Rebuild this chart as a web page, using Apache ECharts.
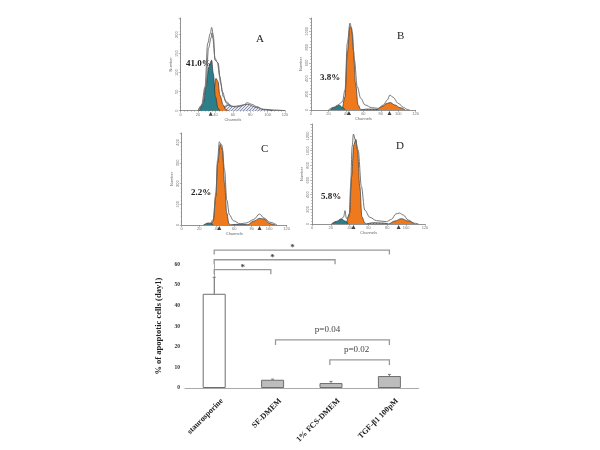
<!DOCTYPE html>
<html><head><meta charset="utf-8">
<style>html,body{margin:0;background:#fff}#c{width:600px;height:450px}</style>
<script src="https://cdn.jsdelivr.net/npm/echarts@6/dist/echarts.min.js"></script>
</head><body><div id="c"></div>
<script>
// ---- Bar chart data
const categories = ['staurosporine','SF-DMEM','1% FCS-DMEM','TGF-β1 100pM'];
const apoptosis = [45.7, 4.0, 2.4, 5.8];
const errorTops = [53.7, 4.3, 3.2, 6.6];
// [from, to, level, tipLevel, label, labelCentre]
const brackets = [
  [0, 3, 66.9, 64.8, '*', 1.34],
  [0, 2.07, 62.2, 60, '*', 1.0],
  [0, 0.97, 57.4, 55.2, '*', 0.49],
  [1.05, 3, 23.3, 20.9, 'p=0.04', 1.94],
  [1.98, 3, 13.6, 11.2, 'p=0.02', 2.44]
];
const bracketLeftTip = [64.8, 60, 55.2, 20.9, 11.2];
// ---- Histogram data: [channel, count]
const aOuter = [[20,0],[24,15],[28,63],[31,177],[34,203],[35.6,219],[37.5,199],[39.5,133],[43,126],[46,72],[49,37],[53,19],[58.6,11],[64,12],[72,15],[76.6,21],[81.6,17],[87,11],[95,4],[106,2],[120,0]];
const aInner = [[20,0],[25,15],[29,63],[32,165],[35,192],[36,205],[37,190],[39.5,138],[42,128],[45,90],[48,50],[52,24],[58,12]];
const aTeal = [[21.5,0],[26,19],[29,63],[32.5,116],[35.6,133],[37.5,98],[40,37],[43,6],[45,0]];
const aOrange = [[33,0],[38,50],[40.6,85],[43,76],[45,41],[49,15],[52,2],[55,0]];
const aHatch = [[48,0],[53,15],[64,10],[76.6,17],[87,9],[95,3],[106,0]];
const aMarks = [34.5];
const bOuter = [[20,0],[25.6,34],[31,64],[36,106],[39,255],[41.6,850],[44.7,1105],[47.4,978],[49.7,638],[53,298],[57,149],[62,64],[69.5,30],[77,21],[83,64],[87.5,128],[90.5,191],[94,162],[100,85],[106,34],[110,8],[113,0]];
const bOrange = [[36,0],[39,170],[41.6,723],[44.7,1062],[46.6,1041],[48.5,765],[51,340],[54,64],[57,8],[59,0],[74.5,0],[81,42],[87.5,85],[91,94],[96,64],[102,30],[108,0]];
const bTeal = [[22,0],[27,34],[32.5,60],[36,34],[39,0]];
const bHatch = [[57,0],[65,12],[72,10],[78,0]];
const bMarks = [43.5, 90];
const cOuter = [[25,0],[32,6],[36,26],[39,154],[41,314],[43,402],[46,386],[49,266],[51.5,122],[54.5,50],[59,21],[66.7,6],[74,10],[82,26],[89,53],[94,34],[101,13],[109,0]];
const cOrange = [[33,0],[36,18],[39,138],[41,298],[44,390],[46.5,362],[49,202],[51.5,58],[54,6],[56,0],[75,0],[82,18],[89,32],[94,29],[101,6],[107,0]];
const cTeal = [[25,0],[30.5,10],[34,6],[36,0]];
const cHatch = [[56,0],[62,3],[70,3],[76,0]];
const cMarks = [43, 89];
const dOuter = [[20.6,0],[26,32],[31,68],[33.7,100],[35,182],[36.5,77],[39.4,100],[41,510],[42.6,1055],[44,1228],[46,1147],[49,1010],[52.5,510],[56,191],[61.4,91],[68.5,46],[79,32],[84.5,64],[89,136],[92.7,150],[97,123],[102,55],[109,9],[113,0]];
const dOrange = [[36.5,0],[40,146],[42,646],[44.4,1078],[46.5,1156],[48.3,1010],[50.8,510],[53,100],[56,18],[58,0],[81,0],[88,41],[95,73],[102,41],[109,0]];
const dTeal = [[21,0],[26,36],[31,68],[36,36],[38.3,0]];
const dHatch = [[58,0],[65,18],[75,14],[81,0]];
const dMarks = [44, 92];
const channelTicks = 20;

const SERIF = '"Liberation Serif","DejaVu Serif",serif';
function hatch(){
  const k = document.createElement('canvas'); k.width = k.height = 3;
  const g = k.getContext('2d');
  g.fillStyle = '#e4e6f0'; g.fillRect(0,0,3,3);
  g.strokeStyle = '#6f7aa8'; g.lineWidth = 0.8;
  g.beginPath(); g.moveTo(0,3); g.lineTo(3,0); g.stroke();
  return {image:k, repeat:'repeat'};
}
const panels = [
  {left:180.7,top:18,w:104.3,h:92.7,ymax:244,yint:50,outer:aOuter,inner:aInner,teal:aTeal,orange:aOrange,hatch:aHatch,marks:aMarks},
  {left:311,top:18,w:104.7,h:92,ymax:1170,yint:200,outer:bOuter,teal:bTeal,orange:bOrange,hatch:bHatch,marks:bMarks},
  {left:181.7,top:133,w:105,h:92,ymax:445,yint:100,outer:cOuter,teal:cTeal,orange:cOrange,hatch:cHatch,marks:cMarks},
  {left:312,top:124,w:113,h:100,ymax:1365,yint:200,outer:dOuter,teal:dTeal,orange:dOrange,hatch:dHatch,marks:dMarks}
];
const grid=[], xAxis=[], yAxis=[], series=[];
const area=(name,i,data,color,z)=>({name,type:'line',xAxisIndex:i,yAxisIndex:i,data,symbol:'none',smooth:0.35,smoothMonotone:'x',z,
  lineStyle:{color:'#333',width:0.7},areaStyle:{color,opacity:1}});
panels.forEach((p,i)=>{
  grid.push({left:p.left,top:p.top,width:p.w,height:p.h});
  xAxis.push({type:'value',gridIndex:i,min:0,max:120,interval:channelTicks,
    name:'Channels',nameLocation:'middle',nameGap:6,nameTextStyle:{fontSize:4,color:'#666'},
    axisLine:{lineStyle:{color:'#777',width:0.8}},axisTick:{length:2,lineStyle:{color:'#777',width:0.5}},
    minorTick:{show:true,splitNumber:5,length:1,lineStyle:{color:'#888',width:0.5}},
    axisLabel:{fontSize:4,color:'#777',margin:2},splitLine:{show:false}});
  yAxis.push({type:'value',gridIndex:i,min:0,max:p.ymax,interval:p.yint,
    name:'Number',nameLocation:'middle',nameGap:8,nameTextStyle:{fontSize:4,color:'#666'},
    axisLine:{show:true,lineStyle:{color:'#777',width:0.8}},axisTick:{show:true,length:2,lineStyle:{color:'#777',width:0.5}},
    minorTick:{show:true,splitNumber:5,length:1,lineStyle:{color:'#888',width:0.5}},
    axisLabel:{fontSize:4,color:'#777',margin:2,rotate:90,showMaxLabel:false,formatter:(v)=>String(v)},splitLine:{show:false}});
  series.push(area('hatch',i,p.hatch,hatch(),2));
  series.push(area('orange',i,p.orange,'#ef7a1e',3));
  series.push(area('teal',i,p.teal,'#2a7f8b',4));
  const ol=(d)=>({type:'line',xAxisIndex:i,yAxisIndex:i,data:d,symbol:'none',smooth:0.35,smoothMonotone:'x',z:5,
    lineStyle:{color:'#666',width:0.9}});
  series.push(ol(p.outer));
  if(p.inner) series.push(ol(p.inner));
  series.push({type:'scatter',xAxisIndex:i,yAxisIndex:i,data:p.marks.map(m=>[m,0]),symbol:'triangle',symbolSize:4,
    symbolOffset:[0,3],itemStyle:{color:'#111'},z:6,clip:false});
});
// ---- Bar chart
const B=4;
grid.push({left:185,top:264.3,width:233.6,height:123.7});
xAxis.push({type:'category',gridIndex:B,data:categories,axisTick:{show:false},
  axisLine:{lineStyle:{color:'#aaa',width:1.2}},
  axisLabel:{interval:0,rotate:45,fontSize:8,fontWeight:'bold',fontFamily:SERIF,color:'#222',margin:4,verticalAlign:'top',padding:[7,0,0,0]}});
xAxis.push({type:'value',gridIndex:B,min:-0.5,max:3.5,show:false});
yAxis.push({type:'value',gridIndex:B,min:0,max:60,interval:10,
  name:'% of apoptotic cells (day1)',nameLocation:'middle',nameGap:22,
  nameTextStyle:{fontSize:8.5,fontWeight:'bold',fontFamily:SERIF,color:'#222'},
  axisLine:{show:true,lineStyle:{color:'#aaa',width:1}},axisTick:{show:false},
  axisLabel:{fontSize:5.5,fontWeight:'bold',fontFamily:SERIF,color:'#333',margin:5},splitLine:{show:false}});
series.push({type:'bar',xAxisIndex:panels.length,yAxisIndex:B,barWidth:23,z:3,
  data:apoptosis.map((v,i)=>({value:v,itemStyle:{color:i===0?'#fff':'#bdbdbd'}})),
  itemStyle:{borderColor:'#6e6e6e',borderWidth:1}});
const cust=(render,data)=>({type:'custom',xAxisIndex:panels.length+1,yAxisIndex:B,coordinateSystem:'cartesian2d',data,renderItem:render,z:4,clip:false,silent:true});
series.push(cust((ctx,api)=>{
  const a=api.coord([api.value(0),api.value(1)]), b=api.coord([api.value(0),api.value(2)]);
  const s={stroke:'#777',lineWidth:1,fill:null};
  return {type:'group',children:[
    {type:'line',shape:{x1:a[0],y1:a[1],x2:b[0],y2:b[1]},style:s},
    {type:'line',shape:{x1:b[0]-1.5,y1:b[1],x2:b[0]+1.5,y2:b[1]},style:s}]};
},apoptosis.map((v,i)=>[i,v,errorTops[i]])));
series.push(cust((ctx,api)=>{
  const x0=api.value(0),x1=api.value(1),y=api.value(2),tip=api.value(3),ltip=api.value(4);
  const pts=[api.coord([x0,ltip]),api.coord([x0,y]),api.coord([x1,y]),api.coord([x1,tip])];
  const b=brackets[ctx.dataIndex], isP=b[4]!=='*';
  const mid=api.coord([b[5],y]);
  return {type:'group',children:[
    {type:'polyline',shape:{points:pts},style:{stroke:'#999',lineWidth:1.3,fill:null}},
    {type:'text',x:mid[0],y:mid[1]-(isP?10:2),style:{text:b[4],align:'center',verticalAlign:'middle',
      font:(isP?'9px ':'bold 9px ')+SERIF,fill:'#444'}}]};
},brackets.map((b,i)=>[b[0],b[1],b[2],b[3],bracketLeftTip[i]])));
// ---- Panel annotations
const note=(t,x,y,size,bold)=>({type:'text',x,y,style:{text:t,font:(bold?'bold ':'')+size+'px '+SERIF,fill:'#222',verticalAlign:'middle'}});
const chart=echarts.init(document.getElementById('c'),null,{renderer:'canvas'});
chart.setOption({animation:false,backgroundColor:'#fff',tooltip:{show:false},grid,xAxis,yAxis,series,
  graphic:[note('41.0%',186,63.5,9,true),note('3.8%',320,78,9,true),note('2.2%',191,193,9,true),note('5.8%',321,197,9,true),
    note('A',256,39,11,false),note('B',397,36,11,false),note('C',261,149,11,false),note('D',396,146,11,false)]});
</script></body></html>
